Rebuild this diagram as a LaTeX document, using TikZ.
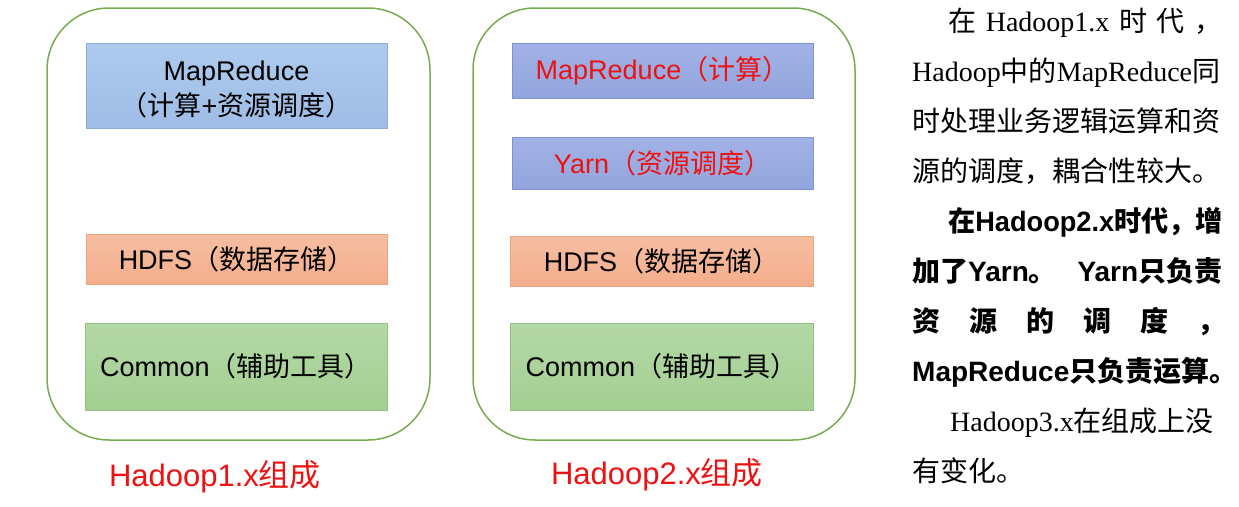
\documentclass[tikz,border=0pt]{standalone}
\usepackage{fontspec}
\setmainfont{Liberation Sans}
\newfontfamily\cjkfont{Noto Sans CJK SC}
\newfontfamily\tmsfont{Liberation Serif}
\newcommand\zh[1]{{\cjkfont #1}}
\newcommand\tms[1]{{\tmsfont #1}}
\definecolor{outgreen}{HTML}{77AC50}
\definecolor{blueAt}{HTML}{ADCAEE}
\definecolor{blueA}{HTML}{9FBDE5}
\definecolor{blueAd}{HTML}{8FAFDB}
\definecolor{blueBt}{HTML}{A2B2E6}
\definecolor{blueB}{HTML}{93A5DD}
\definecolor{blueBd}{HTML}{7E93D6}
\definecolor{salmont}{HTML}{F7BEA2}
\definecolor{salmon}{HTML}{F3AE8C}
\definecolor{salmond}{HTML}{EFA27F}
\definecolor{greenboxt}{HTML}{B3D8A5}
\definecolor{greenbox}{HTML}{A3CF92}
\definecolor{greenboxd}{HTML}{92C27F}
\definecolor{redtxt}{HTML}{EE1111}
\tikzset{
  outerbox/.style={draw=outgreen, line width=1.5pt, rounded corners=62pt, minimum width=#1, minimum height=432pt, inner sep=0pt},
  layer/.style={inner sep=0pt, align=center, font=\fontsize{27}{36}\selectfont, line width=0.8pt},
  mrA/.style={layer, top color=blueAt, bottom color=blueA, draw=blueAd},
  mrB/.style={layer, top color=blueBt, bottom color=blueB, draw=blueBd, text=redtxt},
  hdfs/.style={layer, top color=salmont, bottom color=salmon, draw=salmond},
  commonbox/.style={layer, top color=greenboxt, bottom color=greenbox, draw=greenboxd},
  caption/.style={text=redtxt, font=\fontsize{31}{36}\selectfont, inner sep=0pt},
  para/.style={anchor=base west, inner sep=0pt, font=\fontsize{28}{34}\selectfont},
  bpara/.style={para, font=\fontsize{28}{34}\selectfont\bfseries}
}
\begin{document}
\begin{tikzpicture}[x=1pt,y=-1pt]
\useasboundingbox (0,0) rectangle (1239,506);
% outer containers
\node[outerbox=383pt] (o1) at (238.5,224) {};
\node[outerbox=382pt] (o2) at (664,224) {};
% Hadoop 1.x
\node[mrA, minimum width=301pt, minimum height=85pt] (mr1) at (236.5,85.5) {\raisebox{-5pt}[\height][\depth]{\begin{tabular}{@{}c@{}}MapReduce\\[-1pt]\zh{（计算}+\zh{资源调度）}\end{tabular}}};
\node[hdfs, minimum width=301pt, minimum height=50pt] (hd1) at (236.5,259) {HDFS\zh{（数据存储）}};
\node[commonbox, minimum width=302pt, minimum height=87pt] (cm1) at (236,366.5) {Common\zh{（辅助工具）}};
\node[caption] (cap1) at (215,477) {Hadoop1.x\zh{组成}};
% Hadoop 2.x
\node[mrB, minimum width=301pt, minimum height=55pt] (mr2) at (662.5,70.5) {MapReduce\zh{（计算）}};
\node[mrB, minimum width=301pt, minimum height=52pt] (yarn) at (662.5,163) {Yarn\zh{（资源调度）}};
\node[hdfs, minimum width=303pt, minimum height=50pt] (hd2) at (661.5,261) {HDFS\zh{（数据存储）}};
\node[commonbox, minimum width=303pt, minimum height=87pt] (cm2) at (661.5,366.5) {Common\zh{（辅助工具）}};
\node[caption] (cap2) at (657,475) {Hadoop2.x\zh{组成}};
% explanation text
\node[para] (l1) at (948,31) {\makebox[274pt][s]{\zh{在} \tms{Hadoop1.x} \zh{时} \zh{代} \zh{，}}};
\node[para] (l2) at (912,81.1) {\tms{Hadoop}\zh{中的}\tms{MapReduce}\zh{同}};
\node[para] (l3) at (912,131.2) {\zh{时处理业务逻辑运算和资}};
\node[para] (l4) at (912,181.3) {\zh{源的调度，耦合性较大。}};
\node[bpara] (l5) at (948,231.4) {\scalebox{0.97}[1]{\zh{在}Hadoop2.x\zh{时代，增}}};
\node[bpara] (l6) at (912,281.5) {\makebox[310pt][s]{\zh{加了}Yarn\zh{。} Yarn\zh{只负责}}};
\node[bpara] (l7) at (912,331.6) {\makebox[313pt][s]{\zh{资} \zh{源} \zh{的} \zh{调} \zh{度} \zh{，}}};
\node[bpara] (l8) at (912,381.7) {MapReduce\zh{只负责运算。}};
\node[para] (l9) at (950,431.8) {\tms{Hadoop3.x}\zh{在组成上没}};
\node[para] (l10) at (912,481.9) {\zh{有变化。}};
\end{tikzpicture}
\end{document}
